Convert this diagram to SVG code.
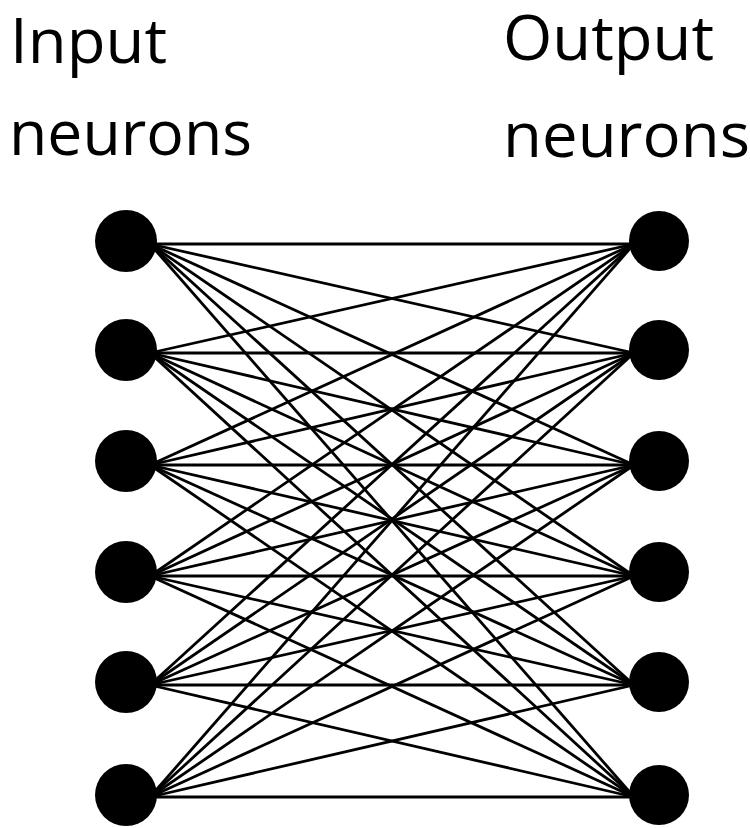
<svg xmlns="http://www.w3.org/2000/svg" width="750" height="828" viewBox="0 0 750 828">
<style>
.t{font-family:"Open Sans","DejaVu Sans",sans-serif;font-size:63px;fill:#000}
.n{fill:#000}
.c line{stroke:#000;stroke-width:2.8}
</style>
<rect width="750" height="828" fill="#fff"/>
<text class="t" x="10" y="63" textLength="157" lengthAdjust="spacingAndGlyphs">Input</text>
<text class="t" x="9" y="155" textLength="243" lengthAdjust="spacingAndGlyphs">neurons</text>
<text class="t" x="503" y="60" textLength="211" lengthAdjust="spacingAndGlyphs">Output</text>
<text class="t" x="503" y="157" textLength="247" lengthAdjust="spacingAndGlyphs">neurons</text>
<g class="c" id="connectors">
<line x1="150" y1="244" x2="634" y2="244"/><line x1="150" y1="244" x2="634" y2="353"/><line x1="150" y1="244" x2="634" y2="465"/><line x1="150" y1="244" x2="634" y2="576"/><line x1="150" y1="244" x2="634" y2="685"/><line x1="150" y1="244" x2="634" y2="797"/>
<line x1="150" y1="353" x2="634" y2="244"/><line x1="150" y1="353" x2="634" y2="353"/><line x1="150" y1="353" x2="634" y2="465"/><line x1="150" y1="353" x2="634" y2="576"/><line x1="150" y1="353" x2="634" y2="685"/><line x1="150" y1="353" x2="634" y2="797"/>
<line x1="150" y1="465" x2="634" y2="244"/><line x1="150" y1="465" x2="634" y2="353"/><line x1="150" y1="465" x2="634" y2="465"/><line x1="150" y1="465" x2="634" y2="576"/><line x1="150" y1="465" x2="634" y2="685"/><line x1="150" y1="465" x2="634" y2="797"/>
<line x1="150" y1="576" x2="634" y2="244"/><line x1="150" y1="576" x2="634" y2="353"/><line x1="150" y1="576" x2="634" y2="465"/><line x1="150" y1="576" x2="634" y2="576"/><line x1="150" y1="576" x2="634" y2="685"/><line x1="150" y1="576" x2="634" y2="797"/>
<line x1="150" y1="685" x2="634" y2="244"/><line x1="150" y1="685" x2="634" y2="353"/><line x1="150" y1="685" x2="634" y2="465"/><line x1="150" y1="685" x2="634" y2="576"/><line x1="150" y1="685" x2="634" y2="685"/><line x1="150" y1="685" x2="634" y2="797"/>
<line x1="150" y1="797" x2="634" y2="244"/><line x1="150" y1="797" x2="634" y2="353"/><line x1="150" y1="797" x2="634" y2="465"/><line x1="150" y1="797" x2="634" y2="576"/><line x1="150" y1="797" x2="634" y2="685"/><line x1="150" y1="797" x2="634" y2="797"/>
</g>
<g id="in1"><circle class="n" cx="126" cy="241" r="31"/></g>
<g id="in2"><circle class="n" cx="126" cy="350" r="31"/></g>
<g id="in3"><circle class="n" cx="126" cy="461" r="31"/></g>
<g id="in4"><circle class="n" cx="126" cy="572" r="31"/></g>
<g id="in5"><circle class="n" cx="126" cy="682" r="31"/></g>
<g id="in6"><circle class="n" cx="126" cy="795" r="31"/></g>
<g id="out1"><circle class="n" cx="659" cy="241" r="30"/></g>
<g id="out2"><circle class="n" cx="659" cy="350" r="30"/></g>
<g id="out3"><circle class="n" cx="659" cy="461" r="30"/></g>
<g id="out4"><circle class="n" cx="659" cy="572" r="30"/></g>
<g id="out5"><circle class="n" cx="659" cy="682" r="30"/></g>
<g id="out6"><circle class="n" cx="659" cy="795" r="30"/></g>
</svg>
